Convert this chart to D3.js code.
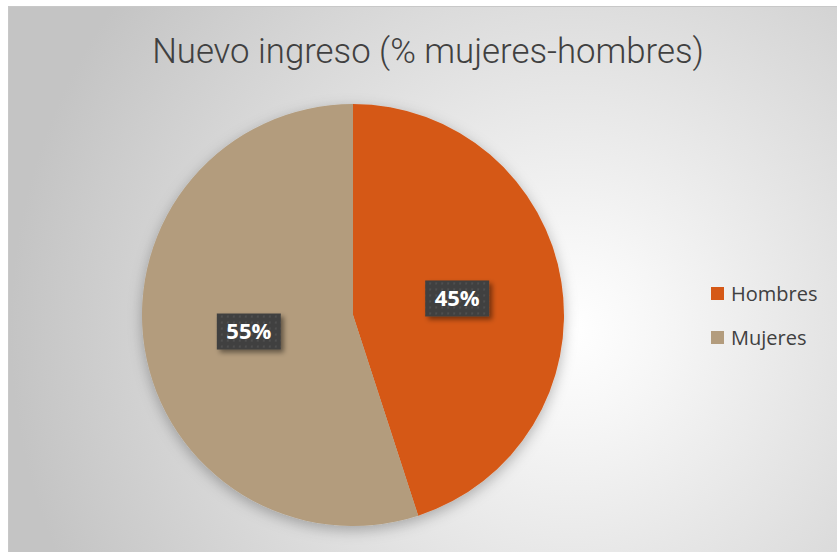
<!DOCTYPE html>
<html><head><meta charset="utf-8">
<script src="https://cdn.jsdelivr.net/npm/d3@7"></script>
<style>html,body{margin:0;padding:0;background:#fff;}svg{display:block;}</style>
</head><body>
<script>
const title = "Nuevo ingreso (% mujeres-hombres)";
const categories = ["Hombres", "Mujeres"];
const values = [45, 55];
const colors = ["#D55816", "#B39C7D"];

const W = 837, H = 552;
const svg = d3.select("body").append("svg").attr("width", W).attr("height", H);
const defs = svg.append("defs");

const bg = defs.append("radialGradient").attr("id", "bg")
  .attr("gradientUnits", "userSpaceOnUse")
  .attr("cx", 570).attr("cy", 330).attr("r", 560);
bg.append("stop").attr("offset", "0").attr("stop-color", "#ffffff");
bg.append("stop").attr("offset", "0.15").attr("stop-color", "#f7f7f7");
bg.append("stop").attr("offset", "1").attr("stop-color", "#c4c4c4");

const sh = defs.append("filter").attr("id", "pieShadow").attr("x", "-20%").attr("y", "-20%").attr("width", "140%").attr("height", "140%");
sh.append("feDropShadow").attr("dx", 0).attr("dy", 4).attr("stdDeviation", 7)
  .attr("flood-color", "#000").attr("flood-opacity", 0.28);

const bsh = defs.append("filter").attr("id", "boxShadow").attr("x", "-30%").attr("y", "-30%").attr("width", "160%").attr("height", "160%");
bsh.append("feDropShadow").attr("dx", 3).attr("dy", 3).attr("stdDeviation", 2.5)
  .attr("flood-color", "#000").attr("flood-opacity", 0.45);

const pat = defs.append("pattern").attr("id", "dots").attr("patternUnits", "userSpaceOnUse")
  .attr("width", 6).attr("height", 6);
pat.append("rect").attr("width", 6).attr("height", 6).attr("fill", "#404040");
pat.append("rect").attr("x", 2).attr("y", 2).attr("width", 2).attr("height", 2).attr("fill", "#4f4f4f");

// chart area
svg.append("rect").attr("x", 8.5).attr("y", 6.5).attr("width", W - 8).attr("height", H - 6)
  .attr("fill", "url(#bg)").attr("stroke", "#c8c8c8").attr("stroke-width", 1);

// title
const t = svg.append("text").attr("x", 428).attr("y", 63)
  .attr("text-anchor", "middle")
  .attr("font-family", "Roboto, 'Open Sans', sans-serif")
  .attr("font-weight", 300)
  .attr("font-size", 33).attr("fill", "#404040").text(title);
const tw = t.node().getComputedTextLength();
t.attr("font-size", Math.min(36, 33 * 552 / tw));

// pie
const cx = 353, cy = 315, r = 211;
const pie = d3.pie().sort(null).value(d => d)(values);
const arc = d3.arc().innerRadius(0).outerRadius(r);
const labelArc = d3.arc().innerRadius(r * 0.5).outerRadius(r * 0.5);
const g = svg.append("g").attr("transform", `translate(${cx},${cy})`);
g.append("g").attr("filter", "url(#pieShadow)")
  .selectAll("path").data(pie).join("path")
  .attr("d", arc).attr("fill", (d, i) => colors[i]);

const fmt = d3.format(".0%");
const total = d3.sum(values);
const lbl = g.selectAll("g.lbl").data(pie).join("g").attr("class", "lbl")
  .attr("transform", d => { const c = labelArc.centroid(d); return `translate(${c[0]},${c[1]})`; });
lbl.append("rect").attr("x", -32).attr("y", -18).attr("width", 64).attr("height", 36)
  .attr("fill", "url(#dots)").attr("filter", "url(#boxShadow)");
lbl.append("text").attr("text-anchor", "middle").attr("dy", "0.36em")
  .attr("font-family", "'Open Sans', 'Noto Sans', sans-serif").attr("font-weight", 700)
  .attr("font-size", 22).attr("fill", "#ffffff")
  .text(d => fmt(d.data / total));

// legend
const leg = svg.append("g").attr("transform", "translate(711,287)");
const li = leg.selectAll("g").data(categories).join("g")
  .attr("transform", (d, i) => `translate(0,${i * 44})`);
li.append("rect").attr("width", 13).attr("height", 13).attr("fill", (d, i) => colors[i]);
li.append("text").attr("x", 20).attr("y", 13.5)
  .attr("font-family", "'Open Sans', 'Noto Sans', sans-serif")
  .attr("font-size", 20).attr("fill", "#404040").text(d => d);
</script>
</body></html>
